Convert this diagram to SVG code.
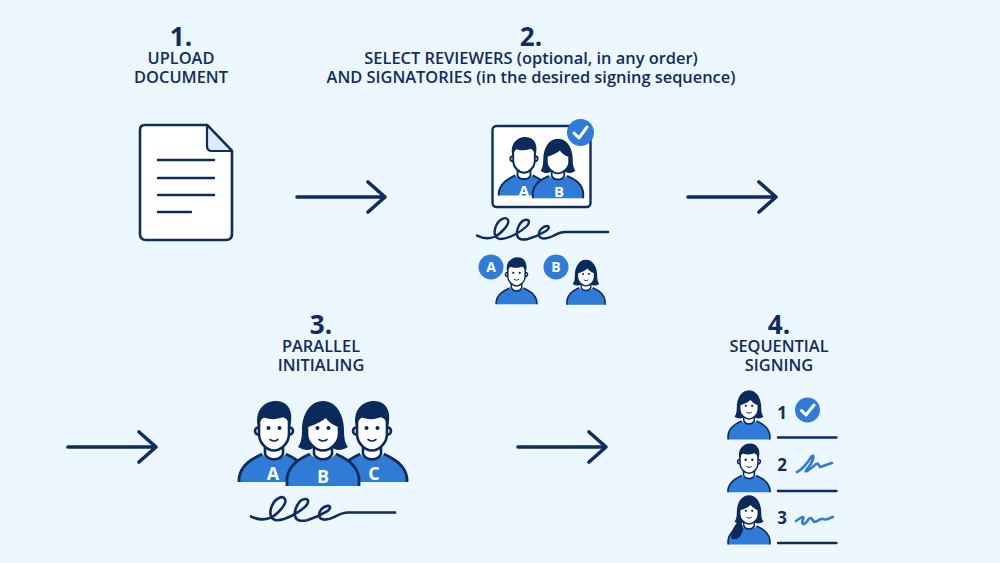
<svg xmlns="http://www.w3.org/2000/svg" width="1000" height="563" viewBox="0 0 1000 563">
<style>
.bg{fill:#edf7ff}
.t{font-family:"Open Sans","Noto Sans",sans-serif;font-weight:600;font-size:16.4px;fill:#0f2c5e;text-anchor:middle}
.n{font-size:26px;font-weight:700}
.w{font-family:"Open Sans","Noto Sans",sans-serif;font-weight:700;fill:#fff;text-anchor:middle}
.d{font-family:"Open Sans","Noto Sans",sans-serif;font-weight:700;font-size:17px;fill:#0f2c5e;text-anchor:middle}
.ln{fill:none;stroke:#0f2c5e;stroke-width:2.4;stroke-linecap:round;stroke-linejoin:round}
.ar{fill:none;stroke:#0f2c5e;stroke-width:3.6;stroke-linecap:round;stroke-linejoin:round}
.sg{fill:none;stroke:#2f7bd6;stroke-width:2.6;stroke-linecap:round;stroke-linejoin:round}
.fillb{fill:#2f7bd6}
.body{fill:none;stroke:#0f2c5e;stroke-width:2.8;stroke-linejoin:round}
.skin{fill:#fff;stroke:#0a2a5c;stroke-width:2.6}
.hair{fill:#0a2a5c}
.badge{fill:#2f7bd6}
.ck{fill:none;stroke:#fff;stroke-width:3;stroke-linecap:round;stroke-linejoin:round}
</style>
<defs>
<path id="sig" class="ln" d="M0 3.600C5 6 12 7 17 5C24 2 33 -8 31 -12C29 -16 22 -13 19 -6C16 1 18 7 24 7C31 7 44 0 50 -6C54 -11 51 -13 48 -12C43 -11 39 -2 40 3C41 8 46 8 51 7C58 5 64 2 69 -1C72 -3 73 -6 70 -6C66 -6 61 -1 62 3C63 8 70 7 76 4C80 2 83 0 88 0L131 0"/>
<g id="manbase">
<path class="fillb" d="M-35 52V48C-33 34 -20 28 -12 24C-6 31 6 31 12 24C20 28 33 34 35 48V52Z"/>
<path class="body" d="M-35 52V48C-33 34 -20 28 -12 24M12 24C20 28 33 34 35 48V52"/>
<path class="skin" d="M-9 12V24C-6 31 6 31 9 24V12Z"/>
<circle class="skin" cx="-15.500" cy="1" r="3.500"/><circle class="skin" cx="15.500" cy="1" r="3.500"/>
<path class="skin" d="M-15 -8C-15 -18 15 -18 15 -8V4C15 13 7 20.500 0 20.500C-7 20.500 -15 13 -15 4Z"/>
<path class="hair" d="M-16 -3C-20 -19 -10 -29 2 -29C15 -29 20 -17 16 -3C15 -7 14 -11 11 -14C4 -10 -5 -10 -11 -13C-13 -10 -15 -7 -16 -3Z"/>
</g>
<g id="womanbase">
<path class="hair" d="M0 -29C-14 -29 -21 -14 -21 0C-21 8 -22 13 -25 17C-18 21 -12 21 -8 16L8 16C12 21 18 21 25 17C22 13 21 8 21 0C21 -14 14 -29 0 -29Z"/>
<path class="fillb" d="M-36 56V48C-34 34 -22 28 -13 24C-7 31 7 31 13 24C22 28 34 34 36 48V56Z"/>
<path class="body" d="M-36 56V48C-34 34 -22 28 -13 24M13 24C22 28 34 34 36 48V56"/>
<path class="skin" d="M-9 12V24C-6 31 6 31 9 24V12Z"/>
<path class="skin" d="M-16 -4C-10 -6 -2 -9 3 -14C6 -9 11 -6 16 -4V4C16 13 7 20.500 0 20.500C-7 20.500 -16 13 -16 4Z"/>
</g>
<g id="facial"><circle class="hair" cx="-5.500" cy="-2" r="2"/><circle class="hair" cx="5.500" cy="-2" r="2"/><path d="M-4 9.500Q0 12.500 4 9.500" fill="none" stroke="#0a2a5c" stroke-width="1.6" stroke-linecap="round"/></g>
<g id="man"><use href="#manbase"/><use href="#facial"/></g>
<g id="woman"><use href="#womanbase"/><use href="#facial"/></g>
<g id="arrow"><path class="ar" d="M0 0H88M71 -15L88 0L71 15"/></g>
</defs>
<rect class="bg" width="1000" height="563"/>

<g id="step1">
<text class="t n" x="181" y="46">1.</text>
<text class="t" x="181" y="64">UPLOAD</text>
<text class="t" x="181" y="83">DOCUMENT</text>
<path d="M145 125H207L232 151V234Q232 240 226 240H146Q140 240 140 234V130Q140 125 145 125Z" fill="#fff" stroke="#0f2c5e" stroke-width="2.6" stroke-linejoin="round"/>
<path d="M207 125V146Q207 151 212 151H232Z" fill="#dcecfc" stroke="#0f2c5e" stroke-width="2.2" stroke-linejoin="round"/>
<path class="ln" d="M158 160H214M158 178H214M158 195H214M158 212H191"/>
</g>

<g id="step2">
<text class="t n" x="531" y="46">2.</text>
<text class="t" x="531" y="64">SELECT REVIEWERS (optional, in any order)</text>
<text class="t" x="531" y="83">AND SIGNATORIES (in the desired signing sequence)</text>
<rect x="492.500" y="126" width="98" height="81" rx="4" fill="#fff" stroke="#0f2c5e" stroke-width="2.400"/>
<use href="#manbase" transform="translate(524 158) scale(.72)"/>
<use href="#womanbase" transform="translate(558 159) scale(.7)"/>
<text class="w" x="524" y="196" font-size="15">A</text>
<text class="w" x="559" y="197" font-size="15">B</text>
<circle class="badge" cx="580.500" cy="132.500" r="13.500"/>
<path class="ck" d="M574 133L579 138L587 127"/>
<use href="#sig" transform="translate(477 232)"/>
<use href="#man" transform="translate(516.500 274) scale(.58)"/>
<use href="#woman" transform="translate(586 275) scale(.53)"/>
<circle class="badge" cx="491" cy="267" r="12.500"/>
<text class="w" x="491" y="272" font-size="14">A</text>
<circle class="badge" cx="556" cy="267" r="12.500"/>
<text class="w" x="556" y="272" font-size="14">B</text>
</g>

<g id="step3">
<text class="t n" x="321" y="334">3.</text>
<text class="t" x="321" y="352">PARALLEL</text>
<text class="t" x="321" y="371">INITIALING</text>
<use href="#man" transform="translate(274 430)"/>
<use href="#man" transform="translate(372 430)"/>
<use href="#woman" transform="translate(323 430)"/>
<text class="w" x="273" y="480" font-size="18">A</text>
<text class="w" x="323" y="483" font-size="18">B</text>
<text class="w" x="374" y="480" font-size="18">C</text>
<use href="#sig" transform="translate(251 512.500) scale(1.1)"/>
</g>

<g id="step4">
<text class="t n" x="779" y="334">4.</text>
<text class="t" x="779" y="352">SEQUENTIAL</text>
<text class="t" x="779" y="371">SIGNING</text>
<use href="#woman" transform="translate(749 407) scale(.58)"/>
<use href="#man" transform="translate(749 461) scale(.6)"/>
<g transform="translate(749 512) scale(.58)">
<use href="#woman"/>
<path class="hair" d="M-15 12C-24 22 -34 34 -30 46C-20 50 -12 42 -10 28Z"/>
</g>
<text class="d" x="782" y="419">1</text>
<circle class="badge" cx="807.500" cy="410" r="12.500"/>
<path class="ck" d="M801.500 410.500L806 415L814 405"/>
<path class="ln" d="M778 437.500H836.500M778 491H836.500M778 543H836.500"/>
<text class="d" x="782" y="471">2</text>
<path class="sg" d="M797 472C802 470 810 459 812 456C815 454 813 463 807 469C803 474 809 470 815 465C819 461 819 467 820 467C824 466 828 464 832 463"/>
<text class="d" x="782" y="524">3</text>
<path class="sg" d="M796 521C800 518 805 515 803 519C801 525 804 526 808 520C811 515 813 521 814 522C818 522 820 518 823 519C826 521 829 518 833 517"/>
</g>

<g id="connectors">
<use href="#arrow" transform="translate(297 197)"/>
<use href="#arrow" transform="translate(688 197)"/>
<use href="#arrow" transform="translate(68 447)"/>
<use href="#arrow" transform="translate(518 447)"/>
</g>
</svg>
